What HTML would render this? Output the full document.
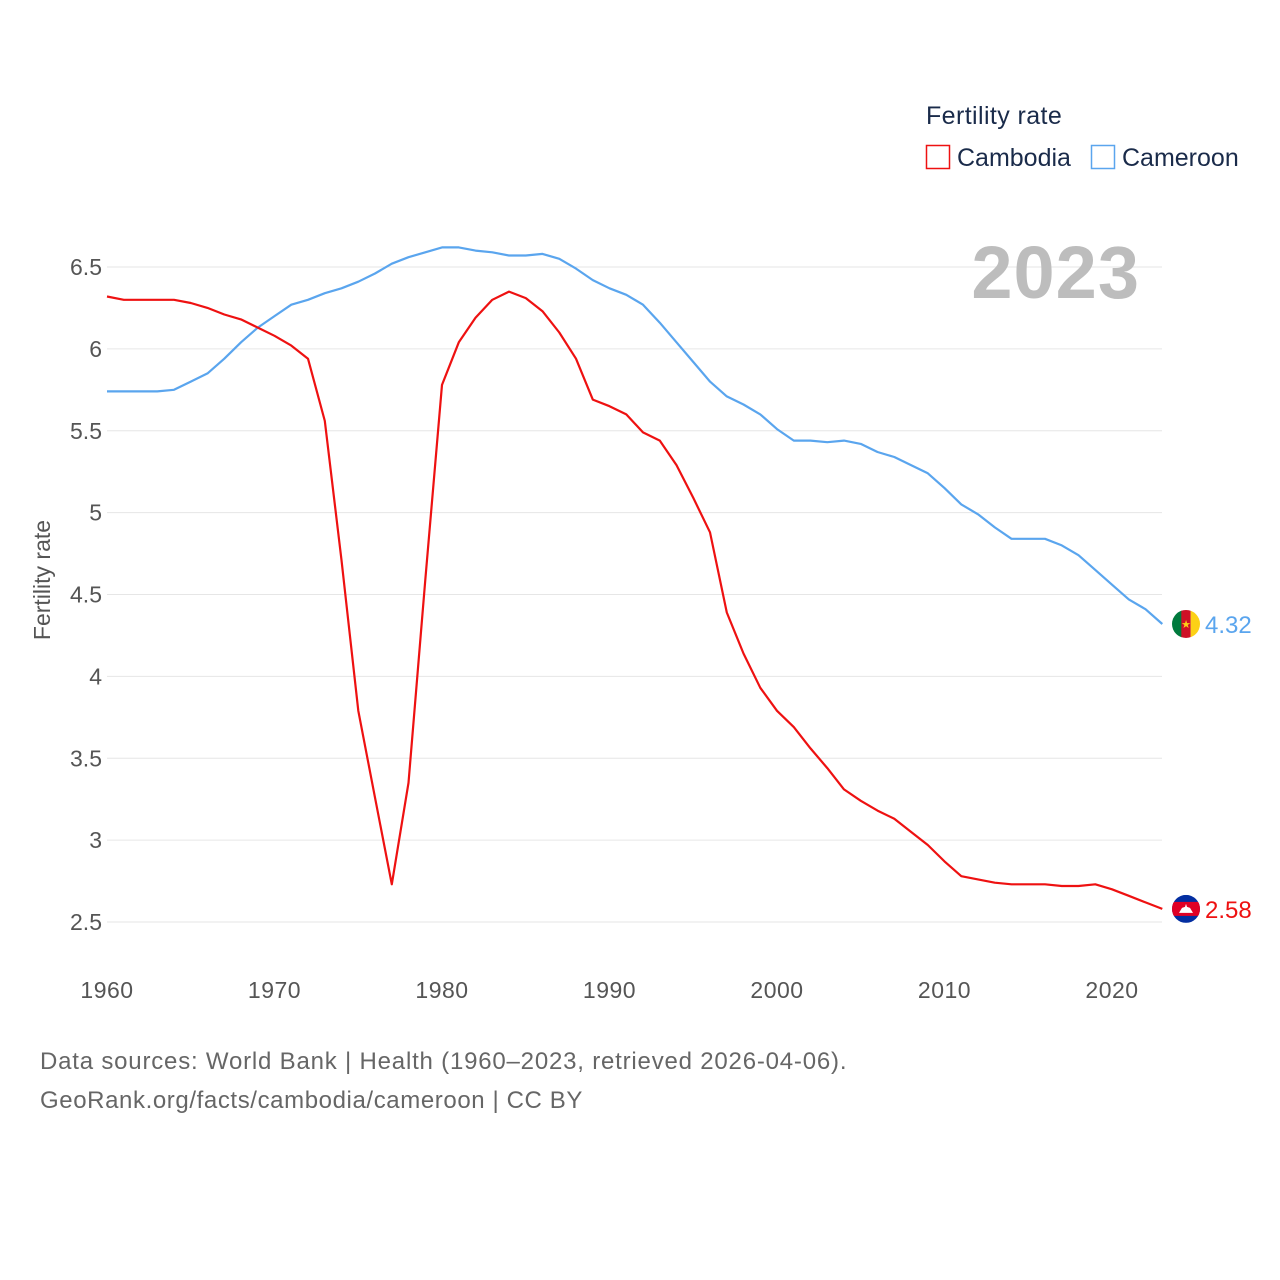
<!DOCTYPE html>
<html><head><meta charset="utf-8"><style>
html,body{margin:0;padding:0;background:#fff;}
svg{display:block;font-family:"Liberation Sans",sans-serif;}
</style></head><body>
<svg id="chart" width="1280" height="1280" viewBox="0 0 1280 1280">
<g id="grid"></g>
<g id="yticks"></g>
<g id="xticks"></g>
<text x="1140" y="298" text-anchor="end" font-size="74" font-weight="bold" fill="#bdbdbd" letter-spacing="1">2023</text>
<text transform="translate(50,580) rotate(-90)" text-anchor="middle" font-size="23" fill="#555">Fertility rate</text>
<g>
<text x="926" y="124" font-size="25" fill="#1a2b4a" letter-spacing="0.4">Fertility rate</text>
<g><rect x="926.5" y="145.5" width="23" height="23" fill="none" stroke="#ee1111" stroke-width="1.5"/><text x="957" y="166" font-size="25" fill="#1a2b4a">Cambodia</text></g>
<g><rect x="1091.5" y="145.5" width="23" height="23" fill="none" stroke="#5aa5ee" stroke-width="1.5"/><text x="1122" y="166" font-size="25" fill="#1a2b4a">Cameroon</text></g>
</g>
<g id="series"></g>
<g id="ends"></g>
<text x="40" y="1069" font-size="24" fill="#666" letter-spacing="0.8">Data sources: World Bank | Health (1960–2023, retrieved 2026-04-06).</text>
<text x="40" y="1108" font-size="24" fill="#666" letter-spacing="0.6">GeoRank.org/facts/cambodia/cameroon | CC BY</text>
</svg>
<script>
const years=[];for(let y=1960;y<=2023;y++)years.push(y);
const cambodia=[6.32,6.30,6.30,6.30,6.30,6.28,6.25,6.21,6.18,6.13,6.08,6.02,5.94,5.56,4.71,3.79,3.26,2.73,3.35,4.59,5.78,6.04,6.19,6.30,6.35,6.31,6.23,6.10,5.94,5.69,5.65,5.60,5.49,5.44,5.29,5.09,4.88,4.39,4.14,3.93,3.79,3.69,3.56,3.44,3.31,3.24,3.18,3.13,3.05,2.97,2.87,2.78,2.76,2.74,2.73,2.73,2.73,2.72,2.72,2.73,2.70,2.66,2.62,2.58];
const cameroon=[5.74,5.74,5.74,5.74,5.75,5.80,5.85,5.94,6.04,6.13,6.20,6.27,6.30,6.34,6.37,6.41,6.46,6.52,6.56,6.59,6.62,6.62,6.60,6.59,6.57,6.57,6.58,6.55,6.49,6.42,6.37,6.33,6.27,6.16,6.04,5.92,5.80,5.71,5.66,5.60,5.51,5.44,5.44,5.43,5.44,5.42,5.37,5.34,5.29,5.24,5.15,5.05,4.99,4.91,4.84,4.84,4.84,4.80,4.74,4.65,4.56,4.47,4.41,4.32];
const yTicks=[2.5,3,3.5,4,4.5,5,5.5,6,6.5];
const xTicks=[1960,1970,1980,1990,2000,2010,2020];
const NS="http://www.w3.org/2000/svg";
const X=y=>107+(y-1960)*16.75;
const Y=v=>922-(v-2.5)*163.75;
function mk(t,a,p){const e=document.createElementNS(NS,t);for(const k in a)e.setAttribute(k,a[k]);p.appendChild(e);return e;}
const grid=document.getElementById('grid'),yt=document.getElementById('yticks'),xt=document.getElementById('xticks');
yTicks.forEach(v=>{
 const l=mk('line',{x1:107,x2:1162,y1:Y(v),y2:Y(v),stroke:'#e6e6e6','stroke-width':1},grid);
 
 
 const t=mk('text',{x:102,y:Y(v)+8,'text-anchor':'end','font-size':23,fill:'#555'},yt);
 t.textContent=String(v);
 
 
});
xTicks.forEach(v=>{
 const t=mk('text',{x:X(v),y:998,'text-anchor':'middle','font-size':23,fill:'#555','letter-spacing':0.5},xt);
 t.textContent=String(v);
 
 
});
const ser=document.getElementById('series');
function line(vals,col,name){
 const d=vals.map((v,i)=>(i?'L':'M')+X(years[i]).toFixed(1)+','+Y(v).toFixed(1)).join(' ');
 const p=mk('path',{d:d,fill:'none',stroke:col,'stroke-width':2.2,'stroke-linejoin':'round'},ser);
 
 
}
line(cameroon,'#5aa5ee','line-cameroon');
line(cambodia,'#ee1111','line-cambodia');
const ends=document.getElementById('ends');
const cx=1186;
let yc=Y(cameroon[cameroon.length-1]);
let g=mk('g',{},ends);


let cp=mk('clipPath',{id:'c1'},g);mk('circle',{cx:cx,cy:yc,r:14},cp);
let gg=mk('g',{'clip-path':'url(#c1)'},g);
mk('rect',{x:cx-14,y:yc-14,width:10,height:28,fill:'#007a3d'},gg);
mk('rect',{x:cx-4.7,y:yc-14,width:9.4,height:28,fill:'#ce1126'},gg);
mk('rect',{x:cx+4.7,y:yc-14,width:10,height:28,fill:'#fcd116'},gg);
let st=mk('text',{x:cx,y:yc+4,'text-anchor':'middle','font-size':11,fill:'#fcd116'},gg);st.textContent='★';
let lt=mk('text',{x:1205,y:yc+9,'font-size':24,fill:'#5aa5ee'},ends);lt.textContent=cameroon[cameroon.length-1].toFixed(2);


yc=Y(cambodia[cambodia.length-1]);
g=mk('g',{},ends);


cp=mk('clipPath',{id:'c2'},g);mk('circle',{cx:cx,cy:yc,r:14},cp);
gg=mk('g',{'clip-path':'url(#c2)'},g);
mk('rect',{x:cx-14,y:yc-14,width:28,height:28,fill:'#032ea1'},gg);
mk('rect',{x:cx-14,y:yc-7,width:28,height:14,fill:'#e00025'},gg);
mk('path',{d:`M${cx-7},${yc+4} L${cx+7},${yc+4} L${cx+4},${yc-1} L${cx+1},${yc-2} L${cx},${yc-5} L${cx-1},${yc-2} L${cx-4},${yc-1} Z`,fill:'#fff'},gg);
lt=mk('text',{x:1205,y:yc+9,'font-size':24,fill:'#ee1111'},ends);lt.textContent=cambodia[cambodia.length-1].toFixed(2);


</script>
</body></html>
